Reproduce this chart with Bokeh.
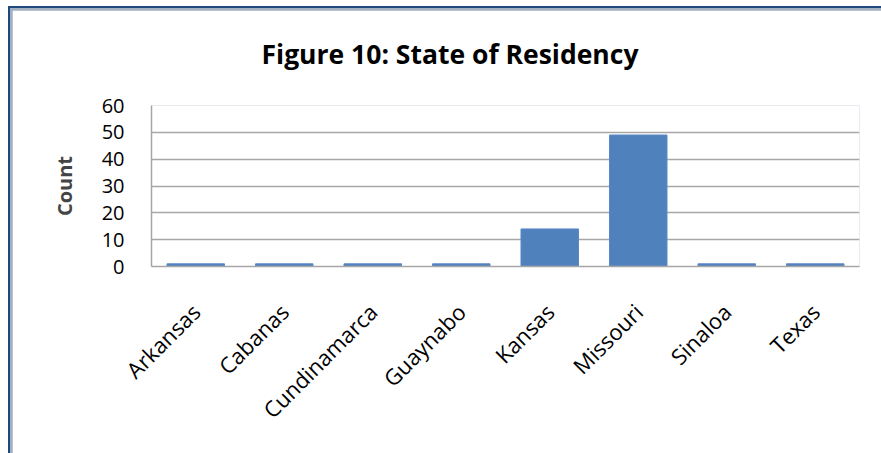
from bokeh.plotting import figure
from bokeh.models import FactorRange, Range1d, FixedTicker, ColumnDataSource, Title
from bokeh.embed import file_html
from bokeh.resources import INLINE
import math

categories = ["Arkansas", "Cabanas", "Cundinamarca", "Guaynabo", "Kansas", "Missouri", "Sinaloa", "Texas"]
counts = [1, 1, 1, 1, 14, 49, 1, 1]
y_ticks = [0, 10, 20, 30, 40, 50, 60]

src = ColumnDataSource(dict(cat=categories, count=counts))

p = figure(width=873, height=447, output_backend="svg", toolbar_location=None,
           x_range=FactorRange(*categories, range_padding=0), y_range=Range1d(0, 60),
           min_border_left=139, min_border_right=26, min_border_top=95, min_border_bottom=191,
           title="Figure 10: State of Residency",
           styles={"margin-left": "8px", "margin-top": "6px",
                   "border-top": "2px solid #1F497D", "border-left": "2px solid #1F497D",
                   "padding-top": "2px", "padding-left": "2px",
                   "background-color": "#A3B0C0"})

# invisible spacer between the frame and the main title
p.add_layout(Title(text=" ", text_font_size="20px", standoff=0), "above")

p.vbar(x="cat", top="count", width=0.65, source=src, fill_color="#4F81BD", line_color="#5A8AC6", line_width=1)

p.title.align = "left"
p.title.text_font = "Open Sans"
p.title.text_font_style = "bold"
p.title.text_font_size = "26.5px"
p.title.text_color = "#000000"
p.title.offset = 110
p.title.standoff = 20

p.outline_line_color = None
p.background_fill_color = "white"
p.border_fill_color = "white"

p.xgrid.grid_line_color = None
p.ygrid.grid_line_color = "#A6A6A6"
p.ygrid.grid_line_width = 1.5

p.yaxis.ticker = FixedTicker(ticks=y_ticks)
p.yaxis.axis_label = "Count"
p.yaxis.axis_label_text_font = "Open Sans"
p.yaxis.axis_label_text_font_style = "bold"
p.yaxis.axis_label_text_font_size = "20px"
p.yaxis.axis_label_standoff = 21
p.yaxis.major_label_text_font = "Open Sans"
p.yaxis.major_label_text_font_size = "20px"
p.yaxis.major_label_text_color = "#000000"
p.yaxis.major_label_standoff = 21
p.yaxis.major_tick_line_color = None
p.yaxis.minor_tick_line_color = None
p.yaxis.axis_line_color = "#A6A6A6"
p.yaxis.axis_line_width = 1.5

p.xaxis.major_label_orientation = math.pi / 4
p.xaxis.major_label_text_font = "Open Sans"
p.xaxis.major_label_text_font_size = "22px"
p.xaxis.major_label_text_color = "#000000"
p.xaxis.major_label_standoff = 35
p.xaxis.major_tick_line_color = None
p.xaxis.minor_tick_line_color = None
p.xaxis.axis_line_color = "#A6A6A6"
p.xaxis.axis_line_width = 1.5

open("out.html", "w").write(file_html(p, INLINE))
